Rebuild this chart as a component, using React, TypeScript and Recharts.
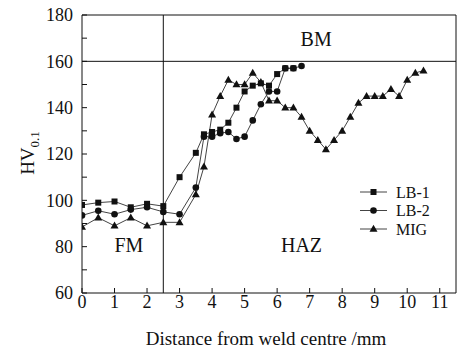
import React from "react";
import {
  LineChart,
  Line,
  XAxis,
  YAxis,
  ReferenceLine,
  ReferenceDot,
  Legend,
  Label,
} from "recharts";

// Microhardness profile across the weld (HV0.1 vs distance, mm)
const lb1Dist = [0, 0.5, 1, 1.5, 2, 2.5, 3, 3.5, 3.75, 4, 4.25, 4.5, 4.75, 5, 5.25, 5.5, 5.75, 6, 6.25, 6.5];
const lb1Hv = [98, 99, 99.5, 97, 98.5, 97.5, 110, 120.5, 128.5, 129.5, 130.5, 133.5, 140, 147, 149.5, 150.5, 149.5, 154.5, 157, 157];

const lb2Dist = [0, 0.5, 1, 1.5, 2, 2.5, 3, 3.5, 3.75, 4, 4.25, 4.5, 4.75, 5, 5.25, 5.5, 5.75, 6, 6.25, 6.5, 6.75];
const lb2Hv = [93.5, 95.5, 94, 96, 97, 95, 94, 105.5, 127.5, 127.5, 129, 129.5, 126.5, 127.5, 134.5, 141.5, 147, 147, 157, 157, 158];

const migDist = [
  0, 0.5, 1, 1.5, 2, 2.5, 3, 3.5, 3.75, 4, 4.25, 4.5, 4.75, 5, 5.25, 5.5, 5.75, 6, 6.25, 6.5, 6.75, 7, 7.25,
  7.5, 7.75, 8, 8.25, 8.5, 8.75, 9, 9.25, 9.5, 9.75, 10, 10.25, 10.5,
];
const migHv = [
  88.5, 92.5, 89, 92.5, 89, 90.5, 90.5, 102.5, 114.5, 137, 145, 152, 150, 150, 155, 151, 143, 143, 140, 140, 136,
  130, 126, 122, 126, 130, 136, 142, 145, 145, 145, 148, 145, 152, 155, 156,
];

const xTicks = [0, 1, 2, 3, 4, 5, 6, 7, 8, 9, 10, 11];
const yTicks = [60, 70, 80, 90, 100, 110, 120, 130, 140, 150, 160, 170, 180];

const toPoints = (xs: number[], ys: number[]) => xs.map((x, i) => ({ x, hv: ys[i] }));

const FONT = '"Liberation Serif", "Times New Roman", serif';
const INK = "#111";
const LINE = "#444";

const marker = (shape: string, cx: number, cy: number, key?: string | number) => {
  if (shape === "square") return <rect key={key} x={cx - 3} y={cy - 3} width={6} height={6} fill={INK} />;
  if (shape === "circle") return <circle key={key} cx={cx} cy={cy} r={3.3} fill={INK} />;
  return <polygon key={key} points={`${cx},${cy - 4.2} ${cx - 4},${cy + 2.8} ${cx + 4},${cy + 2.8}`} fill={INK} />;
};

const series = [
  { name: "LB-1", shape: "square", data: toPoints(lb1Dist, lb1Hv) },
  { name: "LB-2", shape: "circle", data: toPoints(lb2Dist, lb2Hv) },
  { name: "MIG", shape: "triangle", data: toPoints(migDist, migHv) },
];

const renderLegend = () => (
  <svg width={100} height={60}>
    {series.map((s, i) => (
      <g key={s.name} transform={`translate(0, ${i * 18.5 + 10})`}>
        <line x1={0} x2={27} y1={0} y2={0} stroke={LINE} />
        {marker(s.shape, 13.5, 0)}
        <text x={36} y={0} dy="0.35em" fontSize={16} fontFamily={FONT} fill={INK}>
          {s.name}
        </text>
      </g>
    ))}
  </svg>
);

const YTitle = () => (
  <text x={27} y={153} transform="rotate(-90, 27, 153)" textAnchor="middle" dy="0.35em" fontSize={19} fontFamily={FONT} fill={INK}>
    HV
    <tspan dy={5} fontSize={13}>0.1</tspan>
  </text>
);

const XTitle = () => (
  <text x={266} y={338} textAnchor="middle" dy="0.35em" fontSize={19} fontFamily={FONT} fill={INK}>
    Distance from weld centre /mm
  </text>
);

export default function App() {
  const tickStyle = { fontSize: 18, fontFamily: FONT, fill: INK };
  return (
    <div style={{ width: 459, height: 352, background: "#fff" }}>
      <style>{`body{margin:0}`}</style>
      <LineChart width={459} height={352} margin={{ top: 15, right: 3, left: 0, bottom: 0 }}>
        <XAxis
          type="number"
          dataKey="x"
          domain={[0, 11.5]}
          ticks={xTicks}
          allowDataOverflow
          height={59}
          tickSize={-5}
          tickMargin={7}
          tick={tickStyle}
          axisLine={{ stroke: INK }}
          tickLine={{ stroke: INK }}
        >
          <Label content={<XTitle />} />
        </XAxis>
        <YAxis
          type="number"
          domain={[60, 180]}
          ticks={yTicks}
          allowDataOverflow
          width={82}
          tickSize={-5}
          tickMargin={14}
          tick={tickStyle}
          tickFormatter={(v: number) => (v % 20 === 0 ? String(v) : "")}
          axisLine={{ stroke: INK }}
          tickLine={{ stroke: INK }}
        >
          <Label content={<YTitle />} />
        </YAxis>
        <ReferenceLine y={180} stroke={INK} />
        <ReferenceLine x={11.5} stroke={INK} />
        <ReferenceLine y={160} stroke={INK} />
        <ReferenceLine x={2.5} stroke={INK} />
        <ReferenceDot x={7.2} y={169.7} r={0} label={{ value: "BM", position: "center", fontSize: 20, fontFamily: FONT, fill: INK }} />
        <ReferenceDot x={1.44} y={80.6} r={0} label={{ value: "FM", position: "center", fontSize: 20, fontFamily: FONT, fill: INK }} />
        <ReferenceDot x={6.75} y={80.6} r={0} label={{ value: "HAZ", position: "center", fontSize: 20, fontFamily: FONT, fill: INK }} />
        {series.map((s) => (
          <Line
            key={s.name}
            data={s.data}
            dataKey="hv"
            name={s.name}
            type="linear"
            stroke={LINE}
            strokeWidth={1}
            isAnimationActive={false}
            dot={(p: any) => marker(s.shape, p.cx, p.cy, `${s.name}-${p.index}`)}
            activeDot={false}
          />
        ))}
        <Legend
          layout="horizontal"
          verticalAlign="middle"
          content={renderLegend}
          wrapperStyle={{ position: "absolute", left: 360, top: 182, width: 100, height: 60 }}
        />
      </LineChart>
    </div>
  );
}
